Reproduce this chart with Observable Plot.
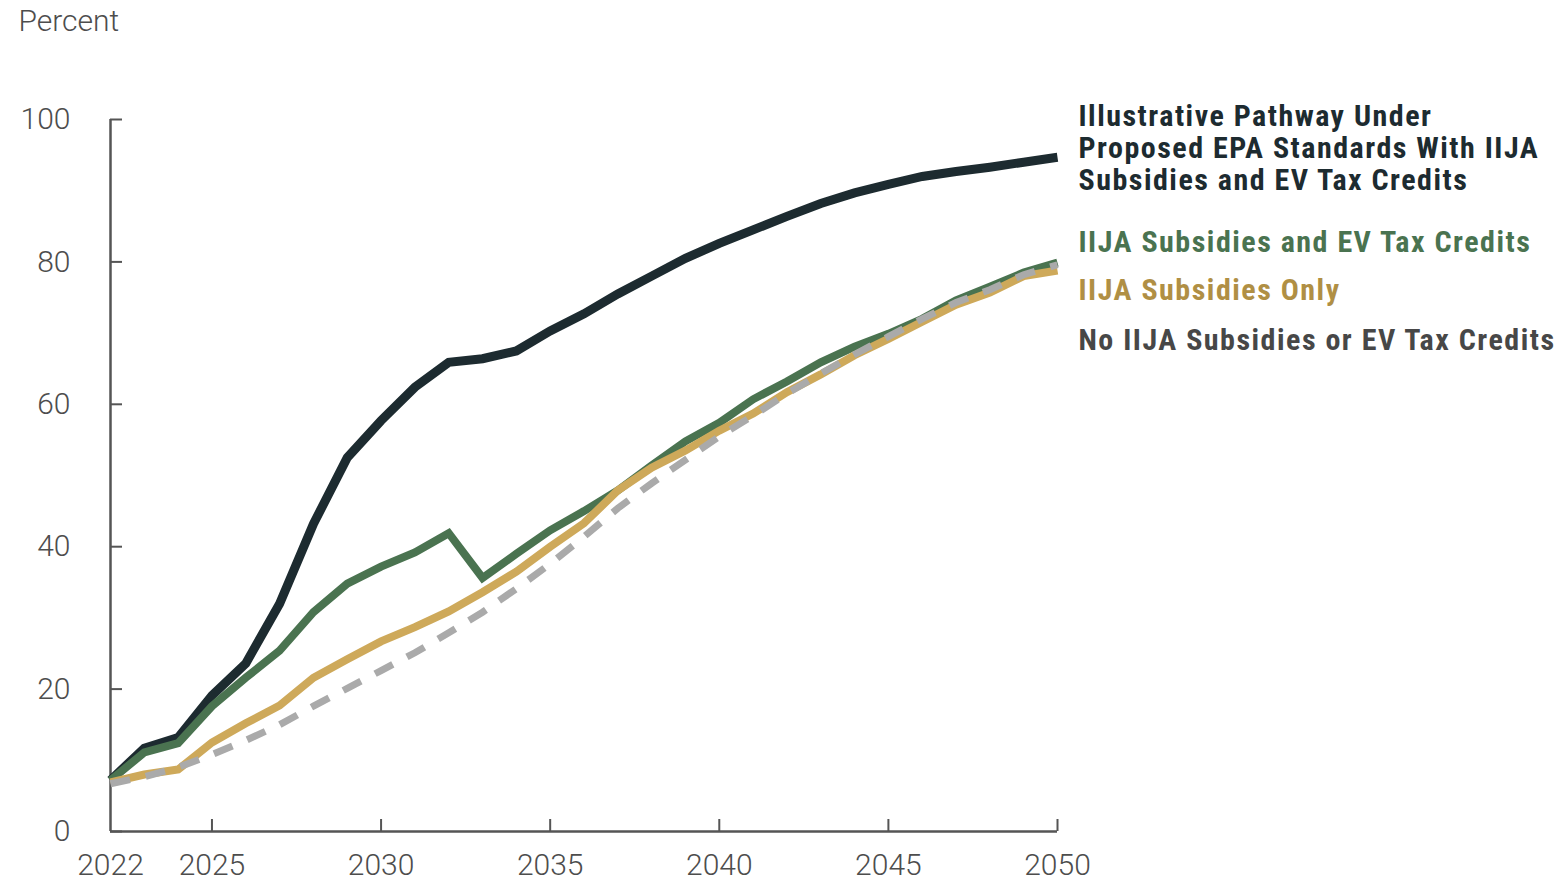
<!DOCTYPE html>
<html>
<head>
<meta charset="utf-8">
<script src="https://cdn.jsdelivr.net/npm/d3@7"></script>
<script src="https://cdn.jsdelivr.net/npm/@observablehq/plot@0.6"></script>
<style>
  body { margin: 0; background: #fff; }
  #chart svg { display: block; }
  #chart g[aria-description="series-label"] text { letter-spacing: 1.5px; }
</style>
</head>
<body>
<div id="chart"></div>
<script>
const years = d3.range(2022, 2051);
const pathway = [7.2, 11.7, 13.2, 19.1, 23.6, 32.0, 43.2, 52.5, 57.7, 62.4, 65.9, 66.4, 67.5, 70.3, 72.7, 75.5, 78.0, 80.5, 82.6, 84.5, 86.4, 88.2, 89.7, 90.9, 92.0, 92.7, 93.3, 94.0, 94.7];
const subsidiesCredits = [7.2, 11.1, 12.4, 17.6, 21.6, 25.4, 30.8, 34.8, 37.2, 39.2, 41.9, 35.6, 39.0, 42.3, 45.0, 47.9, 51.4, 54.8, 57.4, 60.7, 63.2, 65.9, 68.1, 69.9, 72.0, 74.6, 76.5, 78.5, 79.9];
const subsidiesOnly = [6.9, 8.0, 8.7, 12.5, 15.2, 17.7, 21.6, 24.2, 26.7, 28.7, 30.9, 33.6, 36.5, 40.0, 43.3, 47.9, 51.1, 53.5, 56.3, 58.7, 61.7, 64.2, 66.9, 69.2, 71.6, 74.0, 75.7, 78.0, 78.8];
const noSubsidies = [6.7, 7.7, 9.0, 10.8, 12.8, 15.0, 17.6, 20.1, 22.6, 25.1, 27.9, 30.8, 34.1, 37.6, 41.4, 45.4, 48.9, 52.2, 55.5, 58.4, 61.5, 64.3, 67.0, 69.5, 72.0, 74.3, 76.1, 78.2, 79.6];

const xTickLabels = [2022, 2025, 2030, 2035, 2040, 2045, 2050];
const xTickMarks = [2025, 2030, 2035, 2040, 2045, 2050];
const yTicks = [0, 20, 40, 60, 80, 100];

const seriesNames = [
  "Illustrative Pathway Under\nProposed EPA Standards With IIJA\nSubsidies and EV Tax Credits",
  "IIJA Subsidies and EV Tax Credits",
  "IIJA Subsidies Only",
  "No IIJA Subsidies or EV Tax Credits"
];

const toRows = (vals) => years.map((year, i) => ({year, value: vals[i]}));

const tickFont = "Roboto, 'Liberation Sans', sans-serif";
const labelFont = "'Liberation Sans Narrow', 'Roboto Condensed', 'Arial Narrow', sans-serif";

const lineBase = {x: "year", y: "value", strokeLinecap: "butt", strokeLinejoin: "miter", strokeMiterlimit: 2};
const labelBase = {frameAnchor: "top-right", textAnchor: "start", lineAnchor: "middle", dx: 21, fontSize: 30, fontWeight: "bold", fontFamily: labelFont, ariaDescription: "series-label"};

const chart = Plot.plot({
  width: 1567,
  height: 885,
  marginLeft: 110,
  marginRight: 510,
  marginTop: 119,
  marginBottom: 54,
  style: {fontFamily: tickFont, background: "#fff", fontWeight: 300},
  x: {domain: [2022, 2050]},
  y: {domain: [0, 100]},
  marks: [
    Plot.axisY({ticks: yTicks, tickSize: 0, tickPadding: 40, fontSize: 30, tickFormat: d => String(d), label: null, color: "#4d4d4d"}),
    Plot.axisY({ticks: yTicks, anchor: "left", tickSize: -12, text: null, label: null, stroke: "#555", strokeWidth: 2}),
    Plot.axisX({ticks: xTickLabels, tickSize: 0, tickPadding: 22, fontSize: 30, tickFormat: d => String(d), label: null, color: "#4d4d4d"}),
    Plot.axisX({ticks: xTickMarks, tickSize: -12, text: null, label: null, stroke: "#555", strokeWidth: 2}),
    Plot.ruleX([2022], {stroke: "#555", strokeWidth: 2.5}),
    Plot.ruleY([0], {stroke: "#555", strokeWidth: 2.5}),
    Plot.text(["Percent"], {frameAnchor: "top-left", textAnchor: "start", dx: -92, dy: -110, fontSize: 30, fill: "#4d4d4d"}),
    Plot.line(toRows(pathway), {...lineBase, stroke: "#1d2b30", strokeWidth: 9}),
    Plot.line(toRows(subsidiesCredits), {...lineBase, stroke: "#4a7350", strokeWidth: 8}),
    Plot.line(toRows(subsidiesOnly), {...lineBase, stroke: "#cea95a", strokeWidth: 8}),
    Plot.line(toRows(noSubsidies), {...lineBase, stroke: "#aaaaaa", strokeWidth: 7, strokeDasharray: "20,16"}),
    Plot.text([seriesNames[0]], {...labelBase, lineHeight: 1.07, dy: 28, fill: "#1d2b30"}),
    Plot.text([seriesNames[1]], {...labelBase, dy: 123, fill: "#4a7350"}),
    Plot.text([seriesNames[2]], {...labelBase, dy: 171, fill: "#b08f44"}),
    Plot.text([seriesNames[3]], {...labelBase, dy: 221, fill: "#474747"})
  ]
});
document.getElementById("chart").appendChild(chart);
</script>
</body>
</html>
